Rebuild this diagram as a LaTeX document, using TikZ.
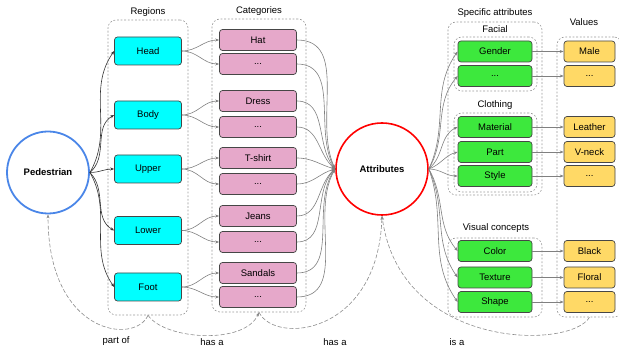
\documentclass[tikz,border=0pt]{standalone}
\usepackage{fontspec}
\setmainfont{Liberation Sans}
\usetikzlibrary{arrows.meta,fit}

\definecolor{regcyan}{RGB}{0,255,255}
\definecolor{catpink}{RGB}{230,168,202}
\definecolor{attgreen}{RGB}{61,232,61}
\definecolor{valyellow}{RGB}{255,217,102}
\definecolor{pedblue}{RGB}{74,134,232}
\definecolor{boxedge}{RGB}{70,70,70}

\tikzset{
  basebox/.style={draw=boxedge, rounded corners=3pt, line width=0.7pt, inner sep=1pt},
  region/.style={basebox, fill=regcyan, minimum width=67pt, minimum height=28pt},
  category/.style={basebox, fill=catpink, minimum width=77pt, minimum height=21pt},
  attrib/.style={basebox, fill=attgreen, minimum width=74pt, minimum height=21pt},
  value/.style={basebox, fill=valyellow, minimum width=51pt, minimum height=21pt},
  group/.style={draw=gray!80, dash pattern=on 1.8pt off 1.8pt, rounded corners=8pt, inner sep=0pt, line width=0.6pt},
  pedlink/.style={draw=black!80, line width=0.6pt, -{Stealth[length=4pt,width=3pt]}},
  link/.style={draw=gray, line width=0.6pt, -{Stealth[length=4pt,width=3pt]}},
  relation/.style={draw=gray!90, dash pattern=on 4pt off 2pt, line width=0.6pt, -{Stealth[length=4pt,width=3pt]}},
}

\begin{document}
\begin{tikzpicture}[x=1pt, y=-1pt, every node/.style={font=\fontsize{9.5}{11}\selectfont}]
  \useasboundingbox (0,0) rectangle (619,352);

  % main circles
  \node (ped) at (48,172.5) [circle, draw=pedblue, line width=1.8pt, minimum size=82pt] {\textbf{Pedestrian}};
  \node (attr) at (382,169) [circle, draw=red, line width=1.6pt, minimum size=92pt] {\textbf{Attributes}};

  % group boxes
  \node (regbox) [group, fit={(108,20) (188,315)}] {};
  \node (catbox) [group, fit={(212,19) (306,312)}] {};
  \node (specbox) [group, fit={(448,22) (542,195)}] {};
  \node (facbox) [group, fit={(454,37) (537,91)}] {};
  \node (clothbox) [group, fit={(454,113) (537,192)}] {};
  \node (visbox) [group, fit={(448,238) (542,317)}] {};
  \node (valbox) [group, fit={(557,37) (622,317)}] {};

  % group labels
  \node (reglabel) at (148,12) {Regions};
  \node (catlabel) at (259,11) {Categories};
  \node (speclabel) at (495,13) {Specific attributes};
  \node (faclabel) at (495,29) {Facial};
  \node (clothlabel) at (495,105) {Clothing};
  \node (vislabel) at (496,228) {Visual concepts};
  \node (vallabel) at (584,22) {Values};

  % regions
  \node (head) at (148,51) [region] {Head};
  \node (body) at (148,115) [region] {Body};
  \node (upper) at (148,169) [region] {Upper};
  \node (lower) at (148,230.5) [region] {Lower};
  \node (foot) at (148,287) [region] {Foot};

  % categories
  \node (hat) at (258,40) [category] {Hat};
  \node (hatx) at (258,64) [category] {...};
  \node (dress) at (258,101) [category] {Dress};
  \node (dressx) at (258,127) [category] {...};
  \node (tshirt) at (258,158) [category] {T-shirt};
  \node (tshirtx) at (258,184) [category] {...};
  \node (jeans) at (258,216) [category] {Jeans};
  \node (jeansx) at (258,242) [category] {...};
  \node (sandals) at (258,273) [category] {Sandals};
  \node (sandalsx) at (258,297) [category] {...};

  % specific attributes
  \node (gender) at (495,51.5) [attrib] {Gender};
  \node (facx) at (495,76) [attrib] {...};
  \node (material) at (495,127) [attrib] {Material};
  \node (part) at (495,152) [attrib] {Part};
  \node (style) at (495,176) [attrib] {Style};
  \node (color) at (495,251) [attrib] {Color};
  \node (texture) at (495,277.5) [attrib] {Texture};
  \node (shape) at (495,302) [attrib] {Shape};

  % values
  \node (male) at (589.5,51.5) [value] {Male};
  \node (malex) at (589.5,76) [value] {...};
  \node (leather) at (589.5,127) [value] {Leather};
  \node (vneck) at (589.5,152) [value] {V-neck};
  \node (stylex) at (589.5,176) [value] {...};
  \node (black) at (589.5,251) [value] {Black};
  \node (floral) at (589.5,277.5) [value] {Floral};
  \node (shapex) at (589.5,302) [value] {...};

  % pedestrian to regions
  \draw[pedlink] (ped.east) to[out=60, in=235] (head.west);
  \draw[pedlink] (ped.east) to[out=40, in=210] (body.west);
  \draw[pedlink] (ped.east) to[out=0, in=180] (upper.west);
  \draw[pedlink] (ped.east) to[out=-45, in=150] (lower.west);
  \draw[pedlink] (ped.east) to[out=-60, in=125] (foot.west);

  % regions to categories
  \draw[link] (head.east) to[out=0, in=180] (hat.west);
  \draw[link] (head.east) to[out=0, in=180] (hatx.west);
  \draw[link] (body.east) to[out=0, in=180] (dress.west);
  \draw[link] (body.east) to[out=0, in=180] (dressx.west);
  \draw[link] (upper.east) to[out=0, in=180] (tshirt.west);
  \draw[link] (upper.east) to[out=0, in=180] (tshirtx.west);
  \draw[link] (lower.east) to[out=0, in=180] (jeans.west);
  \draw[link] (lower.east) to[out=0, in=180] (jeansx.west);
  \draw[link] (foot.east) to[out=0, in=180] (sandals.west);
  \draw[link] (foot.east) to[out=0, in=180] (sandalsx.west);

  % categories to attributes
  \draw[link] (hat.east) to[out=0, in=115] (attr.west);
  \draw[link] (hatx.east) to[out=0, in=120] (attr.west);
  \draw[link] (dress.east) to[out=0, in=130] (attr.west);
  \draw[link] (dressx.east) to[out=0, in=140] (attr.west);
  \draw[link] (tshirt.east) to[out=0, in=165] (attr.west);
  \draw[link] (tshirtx.east) to[out=0, in=195] (attr.west);
  \draw[link] (jeans.east) to[out=0, in=220] (attr.west);
  \draw[link] (jeansx.east) to[out=0, in=225] (attr.west);
  \draw[link] (sandals.east) to[out=0, in=235] (attr.west);
  \draw[link] (sandalsx.east) to[out=0, in=240] (attr.west);

  % attributes to specific attributes
  \draw[link] (attr.east) to[out=65, in=235] (gender.west);
  \draw[link] (attr.east) to[out=60, in=230] (facx.west);
  \draw[link] (attr.east) to[out=40, in=205] (material.west);
  \draw[link] (attr.east) to[out=20, in=195] (part.west);
  \draw[link] (attr.east) to[out=0, in=180] (style.west);
  \draw[link] (attr.east) to[out=-60, in=130] (color.west);
  \draw[link] (attr.east) to[out=-65, in=125] (texture.west);
  \draw[link] (attr.east) to[out=-70, in=125] (shape.west);

  % specific attributes to values
  \draw[link] (gender) -- (male);
  \draw[link] (facx) -- (malex);
  \draw[link] (material) -- (leather);
  \draw[link] (part) -- (vneck);
  \draw[link] (style) -- (stylex);
  \draw[link] (color) -- (black);
  \draw[link] (texture) -- (floral);
  \draw[link] (shape) -- (shapex);

  % relations
  \draw[relation] (regbox.south) .. controls (135,345) and (48,335) .. (ped.south);
  \draw[relation] (regbox.south) .. controls (165,340) and (245,345) .. (catbox.south);
  \draw[relation] (catbox.south) .. controls (275,345) and (378,335) .. (attr.south);
  \draw[relation] (valbox.south) .. controls (570,350) and (400,350) .. (attr.south);

  % relation labels
  \node (partof) at (116,341) {part of};
  \node (hasa) at (212,342) {has a};
  \node (hasb) at (335,342) {has a};
  \node (isa) at (457,342) {is a};
\end{tikzpicture}
\end{document}
